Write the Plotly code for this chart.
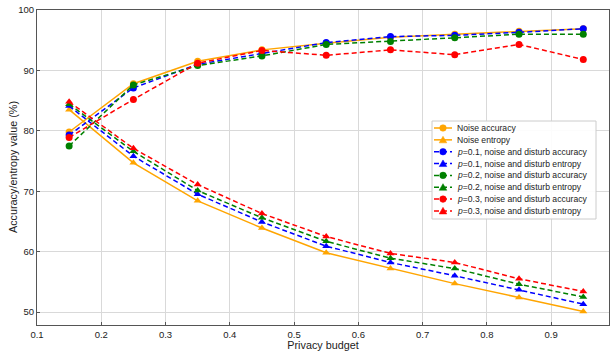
import plotly.graph_objects as go

budget = [0.15, 0.25, 0.35, 0.45, 0.55, 0.65, 0.75, 0.85, 0.95]
noise_acc = [79.8, 87.8, 91.5, 93.4, 94.5, 95.5, 96.0, 96.5, 96.9]
noise_ent = [83.5, 74.7, 68.4, 63.9, 59.8, 57.2, 54.7, 52.4, 50.1]
p1_acc = [79.3, 87.1, 91.0, 92.8, 94.6, 95.6, 95.8, 96.3, 96.9]
p1_ent = [84.1, 75.8, 69.5, 64.9, 60.9, 58.2, 56.0, 53.7, 51.3]
p2_acc = [77.5, 87.6, 90.8, 92.4, 94.3, 94.8, 95.4, 96.0, 96.0]
p2_ent = [84.4, 76.6, 70.1, 65.6, 61.7, 58.9, 57.2, 54.6, 52.5]
p3_acc = [78.9, 85.2, 91.2, 93.3, 92.5, 93.4, 92.6, 94.3, 91.8]
p3_ent = [84.8, 77.1, 71.1, 66.3, 62.5, 59.7, 58.2, 55.5, 53.4]

series = [
    ("Noise accuracy", noise_acc, "#FFA500", "solid", "circle"),
    ("Noise entropy", noise_ent, "#FFA500", "solid", "triangle-up"),
    ("<i>p</i>=0.1, noise and disturb accuracy", p1_acc, "#0000FF", "dash", "circle"),
    ("<i>p</i>=0.1, noise and disturb entropy", p1_ent, "#0000FF", "dash", "triangle-up"),
    ("<i>p</i>=0.2, noise and disturb accuracy", p2_acc, "#008000", "dash", "circle"),
    ("<i>p</i>=0.2, noise and disturb entropy", p2_ent, "#008000", "dash", "triangle-up"),
    ("<i>p</i>=0.3, noise and disturb accuracy", p3_acc, "#FF0000", "dash", "circle"),
    ("<i>p</i>=0.3, noise and disturb entropy", p3_ent, "#FF0000", "dash", "triangle-up"),
]

W, H = 610, 356
ML, MR, MT, MB = 37, 1, 10, 31
PW, PH = W - ML - MR, H - MT - MB
FONT = "Liberation Sans, Arial"
DASH = "5px,3px"


def px_to_paper(px, py):
    return (px - ML) / PW, (H - MB - py) / PH


fig = go.Figure()
for name, vals, color, dash, sym in series:
    fig.add_trace(go.Scatter(
        x=budget, y=vals, name=name, mode="lines+markers", showlegend=False,
        line=dict(color=color, width=1.5, dash=DASH if dash == "dash" else "solid"),
        marker=dict(color=color, symbol=sym, size=7),
    ))

# Custom compact legend (matplotlib-like)
shapes = []
annotations = []
bx0, by0 = px_to_paper(432, 121)
bx1, by1 = px_to_paper(596, 219)
shapes.append(dict(type="rect", xref="paper", yref="paper", x0=bx0, x1=bx1, y0=by1, y1=by0,
                   line=dict(color="#cccccc", width=1), fillcolor="rgba(255,255,255,0.9)",
                   layer="above"))
for i, (name, vals, color, dash, sym) in enumerate(series):
    cy = 128 + i * 11.85
    lx0, ly = px_to_paper(434, cy)
    lx1, _ = px_to_paper(452, cy)
    mx, my = px_to_paper(443, cy)
    shapes.append(dict(type="line", xref="paper", yref="paper", x0=lx0, x1=lx1, y0=ly, y1=ly,
                       line=dict(color=color, width=1.5, dash=DASH if dash == "dash" else "solid"),
                       layer="above"))
    if sym == "circle":
        shapes.append(dict(type="circle", xref="paper", yref="paper", xsizemode="pixel", ysizemode="pixel",
                           xanchor=mx, yanchor=my, x0=-3.3, x1=3.3, y0=-3.3, y1=3.3,
                           fillcolor=color, line=dict(color=color, width=0.5), layer="above"))
    else:
        shapes.append(dict(type="path", xref="paper", yref="paper", xsizemode="pixel", ysizemode="pixel",
                           xanchor=mx, yanchor=my, path="M -3.8,-3 L 3.8,-3 L 0,3.6 Z",
                           fillcolor=color, line=dict(color=color, width=0.5), layer="above"))
    tx, ty = px_to_paper(455, cy)
    annotations.append(dict(xref="paper", yref="paper", x=tx, y=ty, xanchor="left", yanchor="middle",
                            text=name, showarrow=False, font=dict(size=8.6, family=FONT, color="#222222")))

# y-axis title placed like the reference
ytx, yty = px_to_paper(13, 167)
annotations.append(dict(xref="paper", yref="paper", x=ytx, y=yty, xanchor="center", yanchor="middle",
                        text="Accuracy/entropy value (%)", textangle=-90, showarrow=False,
                        font=dict(size=10.8, family=FONT, color="#222222")))

axis_common = dict(
    showline=True, linecolor="#555555", linewidth=1.2, mirror=True,
    showgrid=True, gridcolor="#d9d9d9", gridwidth=1,
    ticks="inside", ticklen=3, tickcolor="#555555",
    tickfont=dict(family=FONT, size=9.5, color="#222222"),
    zeroline=False,
)

fig.update_layout(
    width=W, height=H,
    margin=dict(l=ML, r=MR, t=MT, b=MB, autoexpand=False),
    paper_bgcolor="white", plot_bgcolor="white",
    font=dict(family=FONT, color="#222222"),
    xaxis=dict(range=[0.1, 0.99], tickmode="array",
               tickvals=[0.1, 0.2, 0.3, 0.4, 0.5, 0.6, 0.7, 0.8, 0.9],
               ticktext=["0.1", "0.2", "0.3", "0.4", "0.5", "0.6", "0.7", "0.8", "0.9"],
               title=dict(text="Privacy budget", font=dict(size=10.8), standoff=2),
               automargin=False, **axis_common),
    yaxis=dict(range=[47.85, 100], tickmode="array",
               tickvals=[50, 60, 70, 80, 90, 100],
               automargin=False, **axis_common),
    shapes=shapes,
    annotations=annotations,
    showlegend=False,
)

fig.write_html("out.html", config={"displayModeBar": False},
               post_script="document.body.style.margin='0';document.body.style.padding='0';")
